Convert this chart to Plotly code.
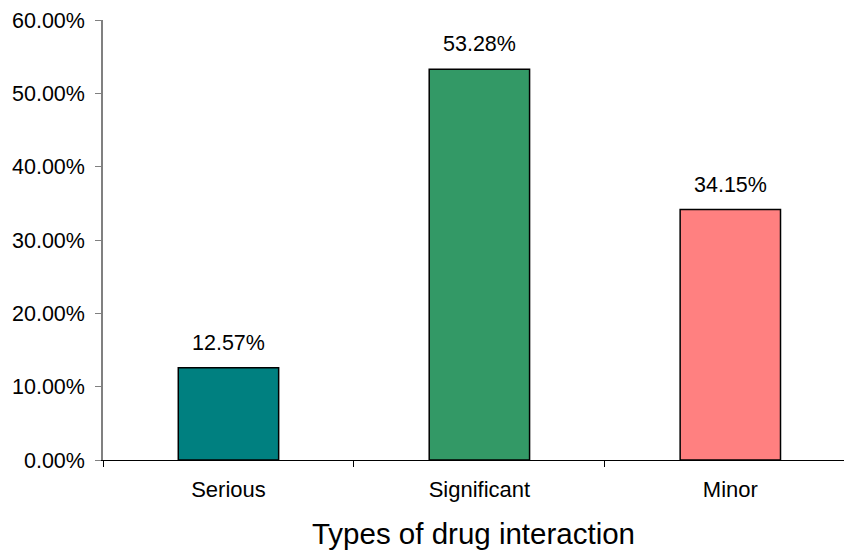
import plotly.graph_objects as go

categories = ["Serious", "Significant", "Minor"]
percentages = [12.57, 53.28, 34.15]
bar_colors = ["#008080", "#339966", "#FF8080"]
y_ticks = [0, 10, 20, 30, 40, 50, 60]

FONT = "Liberation Sans, Arial, sans-serif"

fig = go.Figure()
fig.add_trace(go.Bar(
    x=categories,
    y=percentages,
    width=0.4,
    marker=dict(color=bar_colors, line=dict(color="black", width=1.5)),
    hoverinfo="skip",
))

# value labels above each bar
for cat, val in zip(categories, percentages):
    fig.add_annotation(
        x=cat, y=val, text=f"{val:.2f}%", showarrow=False,
        yshift=25, font=dict(family=FONT, size=21.5, color="black"),
    )

fig.update_layout(
    width=844, height=550,
    margin=dict(l=103, r=0, t=20, b=90),
    plot_bgcolor="white", paper_bgcolor="white",
    showlegend=False,
    font=dict(family=FONT, color="black"),
)
fig.update_xaxes(
    type="category",
    range=[-0.5, 2.453],
    showline=True, linecolor="black", linewidth=1,
    ticks="outside", tickson="boundaries", ticklen=6, tickcolor="black",
    showgrid=False, zeroline=False,
    tickfont=dict(size=22), ticklabelstandoff=10,
    title=dict(text="Types of drug interaction", font=dict(size=29.5), standoff=22),
)
fig.update_yaxes(
    range=[0, 60], tickvals=y_ticks,
    ticktext=[f"{v:.2f}%" for v in y_ticks],
    showline=True, linecolor="#808080", linewidth=1.5,
    ticks="outside", ticklen=6, tickcolor="#808080",
    tickfont=dict(size=21.5), ticklabelstandoff=6,
    showgrid=False, zeroline=False,
)

fig.write_html("out.html")
